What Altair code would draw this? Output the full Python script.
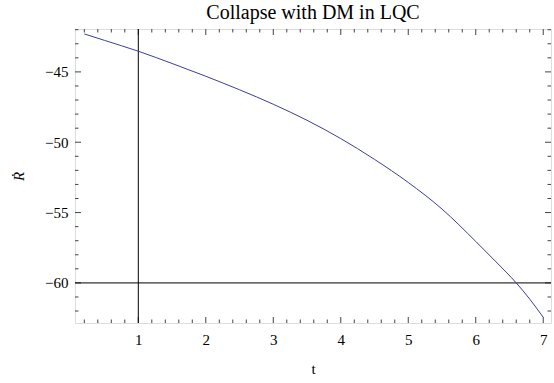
import altair as alt
import pandas as pd

# Curve values
t_vals = [0.2, 0.5, 1.0, 1.5, 2.0, 2.5, 3.0, 3.5, 4.0, 4.5, 5.0, 5.5, 6.0, 6.3, 6.6, 6.8, 7.0]
rdot_vals = [-42.30, -42.76, -43.53, -44.40, -45.31, -46.27, -47.30, -48.44, -49.74,
             -51.22, -52.86, -54.75, -57.05, -58.50, -60.00, -61.15, -62.45]

# Tick values
x_major = [1, 2, 3, 4, 5, 6, 7]
x_minor = [round(0.2 * i, 1) for i in range(1, 36) if i % 5 != 0]
y_major = [-45, -50, -55, -60]
y_minor = [v for v in range(-62, -41) if v % 5 != 0]

# Mathematica-style axes crossing point
axis_origin_t = 1
axis_origin_r = -60

W, H = 476, 294
XDOM = [0.062, 7.115]
YDOM = [-62.85, -41.95]
FONT = "Liberation Serif"
FRAME = "#444444"

df = pd.DataFrame({"t": t_vals, "r": rdot_vals})
xs = alt.Scale(domain=XDOM, nice=False, zero=False)
ys = alt.Scale(domain=YDOM, nice=False, zero=False)

line = alt.Chart(df).mark_line(color="#3d3d99", strokeWidth=1, interpolate="monotone").encode(
    x=alt.X("t:Q", scale=xs,
            axis=alt.Axis(values=x_major, format="d", ticks=False, domain=False, grid=False,
                          labelFont=FONT, labelFontSize=15, labelColor="black", labelPadding=9,
                          title="t", titleFont=FONT, titleFontSize=15, titleFontWeight="normal",
                          titleColor="black", titlePadding=14)),
    y=alt.Y("r:Q", scale=ys,
            axis=alt.Axis(values=y_major, format="d", ticks=False, domain=False, grid=False,
                          labelFont=FONT, labelFontSize=15, labelColor="black", labelPadding=7,
                          title="Ṙ", titleFont=FONT, titleFontSize=15, titleFontWeight="normal",
                          titleFontStyle="italic", titleColor="black", titlePadding=18)),
)

vline = alt.Chart(pd.DataFrame({"t": [axis_origin_t]})).mark_rule(color="black", strokeWidth=1).encode(
    x=alt.X("t:Q", scale=xs), y=alt.value(0), y2=alt.value(H))
hline = alt.Chart(pd.DataFrame({"r": [axis_origin_r]})).mark_rule(color="black", strokeWidth=1).encode(
    y=alt.Y("r:Q", scale=ys), x=alt.value(0), x2=alt.value(W))


def xticks(vals, length):
    d = pd.DataFrame({"t": vals})
    bot = alt.Chart(d).mark_rule(color=FRAME, strokeWidth=1).encode(
        x=alt.X("t:Q", scale=xs), y=alt.value(H), y2=alt.value(H - length))
    top = alt.Chart(d).mark_rule(color=FRAME, strokeWidth=1).encode(
        x=alt.X("t:Q", scale=xs), y=alt.value(0), y2=alt.value(length))
    return [bot, top]


def yticks(vals, length):
    d = pd.DataFrame({"r": vals})
    left = alt.Chart(d).mark_rule(color=FRAME, strokeWidth=1).encode(
        y=alt.Y("r:Q", scale=ys), x=alt.value(0), x2=alt.value(length))
    right = alt.Chart(d).mark_rule(color=FRAME, strokeWidth=1).encode(
        y=alt.Y("r:Q", scale=ys), x=alt.value(W), x2=alt.value(W - length))
    return [left, right]


layers = (xticks(x_major, 6) + xticks(x_minor, 3.5) + yticks(y_major, 6) + yticks(y_minor, 3.5)
          + [vline, hline, line])

chart = alt.layer(*layers).properties(
    width=W, height=H,
    title=alt.TitleParams("Collapse with DM in LQC", font=FONT, fontSize=20, fontWeight="normal",
                          color="black", anchor="middle", offset=6),
    autosize=alt.AutoSizeParams(type="none"),
    padding={"left": 75, "top": 29, "right": 3, "bottom": 60},
).configure_view(stroke=FRAME, strokeWidth=1).configure(background="white")

chart.save("out.html", embed_options={"renderer": "svg", "actions": False})
